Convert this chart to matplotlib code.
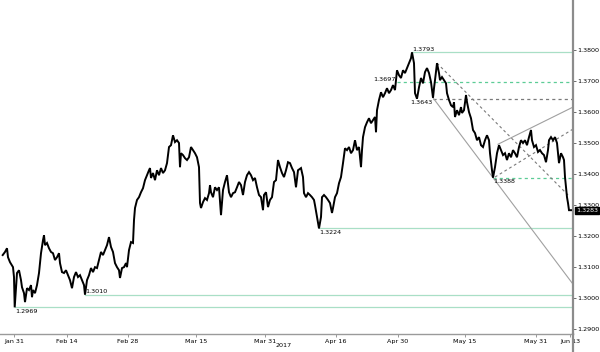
import matplotlib
matplotlib.use("Agg")
import matplotlib.pyplot as plt
import matplotlib.transforms as mtransforms
from matplotlib.lines import Line2D
import numpy as np

# ---- data (time in chart session units, USD/CAD close) ----
t_feb = [2.7,5,7,8,10,13,14,14.7,16,17,19,21,22,24,25,27,29,31,32,33,35,37,39,40,41,43,44,45,47,49,
         51,53,55,57,59,60,62,64,66,68,70,72,74,76,78,80,82,84,85,87,89,91,93,95,97,99,101,103,105,107,
         109,111,113,115,117,119,120,122,124,126,127,129,131,133,134,135,137,139,141,143,145,147,149]
v_feb = [1.3138,1.3148,1.3160,1.3131,1.3115,1.3099,1.3067,1.2969,1.3034,1.3080,
         1.3089,1.3057,1.3034,1.3015,1.2986,1.3031,1.3025,1.3041,1.3002,1.3025,
         1.3015,1.3041,1.3080,1.3112,1.3144,1.3186,1.3202,1.3170,1.3177,1.3160,
         1.3148,1.3144,1.3122,1.3131,1.3144,1.3112,1.3083,1.3080,1.3089,1.3073,
         1.3057,1.3031,1.3067,1.3083,1.3067,1.3073,1.3057,1.3041,1.3010,1.3057,
         1.3073,1.3096,1.3083,1.3099,1.3096,1.3122,1.3148,1.3138,1.3154,1.3170,
         1.3196,1.3164,1.3148,1.3112,1.3099,1.3089,1.3064,1.3096,1.3099,1.3112,
         1.3099,1.3154,1.3180,1.3177,1.3251,1.3290,1.3316,1.3325,1.3341,1.3354,
         1.3380,1.3396,1.3412]

t_mar = [150,151,153,155,157,159,161,163,165,167,169,171,173,175,177,179,180,181,183,185,
         187,189,191,193,195,197,199,200,201,203,205,207,209,210,211,213,215,217,219,221,
         223,225,227,229,231,233,235,237,239,241,243,245,247,249,251,253,255,257,259,261,
         263,264,266,268,270,272,274,276,278,280,282,284,286,288,290,292,294,296,298]
v_mar = [1.3419,1.3387,1.3403,1.3380,1.3412,1.3396,1.3419,1.3403,1.3412,1.3435,
         1.3487,1.3493,1.3525,1.3503,1.3509,1.3500,1.3422,1.3467,1.3461,1.3451,
         1.3445,1.3454,1.3487,1.3477,1.3467,1.3454,1.3422,1.3306,1.3290,1.3309,
         1.3322,1.3316,1.3338,1.3364,1.3341,1.3325,1.3357,1.3348,1.3357,1.3267,
         1.3348,1.3374,1.3396,1.3341,1.3325,1.3338,1.3341,1.3357,1.3374,1.3364,
         1.3332,1.3374,1.3396,1.3406,1.3396,1.3380,1.3387,1.3357,1.3332,1.3325,
         1.3283,1.3332,1.3341,1.3293,1.3316,1.3325,1.3374,1.3380,1.3445,1.3422,
         1.3403,1.3390,1.3412,1.3438,1.3435,1.3419,1.3406,1.3357,1.3412]

t_apr = [301,303,304,306,308,310,312,314,315,317,319,321,322,324,326,328,330,332,333,335,
         337,339,341,343,345,347,349,351,353,355,357,359,361,362,363,365,367,369,371,373,
         375,376,377,379,381,383,385,387,389,391,393,395,397,399,401,403,405,407,409,411,
         412,414,415,417,419,421,423,425,427,429,431,433,434,435,437,439,440,442,444,446,
         447,449,451,453,454,455,457,459,461,462,464,466,467,469,471,473,475,477,479,481,
         483,485,487,489,490,492,493,495,497,499,501,503,505,507,509,511,513,515,517,519,
         521,523,525,527,529,531,532,534,536,538,540,542,544,546,548,549,551,553,555,557,
         559,561,563,564,565,567,568,569,571]
v_apr = [1.3419,1.3390,1.3338,1.3325,1.3338,1.3332,1.3325,1.3316,1.3299,1.3261,
         1.3224,1.3261,1.3325,1.3332,1.3325,1.3316,1.3306,1.3274,1.3290,1.3325,
         1.3338,1.3370,1.3390,1.3435,1.3483,1.3477,1.3487,1.3467,1.3477,1.3509,
         1.3477,1.3487,1.3422,1.3477,1.3519,1.3551,1.3567,1.3580,1.3564,1.3574,
         1.3584,1.3535,1.3606,1.3639,1.3664,1.3648,1.3661,1.3677,1.3661,1.3671,
         1.3687,1.3671,1.3735,1.3719,1.3710,1.3735,1.3726,1.3742,1.3758,1.3774,
         1.3793,1.3758,1.3661,1.3643,1.3680,1.3710,1.3693,1.3729,1.3742,1.3726,
         1.3697,1.3646,1.3677,1.3703,1.3758,1.3726,1.3703,1.3713,1.3703,1.3693,
         1.3661,1.3639,1.3622,1.3616,1.3632,1.3584,1.3606,1.3590,1.3616,1.3597,
         1.3606,1.3655,1.3632,1.3600,1.3580,1.3542,1.3532,1.3509,1.3519,1.3493,
         1.3487,1.3509,1.3525,1.3509,1.3467,1.3412,1.3388,1.3422,1.3467,1.3493,
         1.3477,1.3461,1.3467,1.3445,1.3467,1.3454,1.3477,1.3467,1.3454,1.3487,
         1.3509,1.3500,1.3509,1.3493,1.3519,1.3542,1.3509,1.3487,1.3493,1.3471,
         1.3477,1.3467,1.3461,1.3438,1.3477,1.3509,1.3519,1.3509,1.3519,1.3500,
         1.3435,1.3467,1.3454,1.3445,1.3390,1.3325,1.3306,1.3283,1.3283]

assert len(t_feb) == len(v_feb), (len(t_feb), len(v_feb))
assert len(t_mar) == len(v_mar), (len(t_mar), len(v_mar))
assert len(t_apr) == len(v_apr), (len(t_apr), len(v_apr))

last_price = 1.3283

x_tick_pos = [14, 67, 128, 196, 265, 336, 398, 465, 536, 570]
x_tick_labels = ["Jan 31", "Feb 14", "Feb 28", "Mar 15", "Mar 31", "Apr 16",
                 "Apr 30", "May 15", "May 31", "Jun 13"]
year_label = "2017"
y_ticks = [1.29, 1.30, 1.31, 1.32, 1.33, 1.34, 1.35, 1.36, 1.37, 1.38]

# support / resistance levels: value, start time
level_values = [1.2969, 1.3010, 1.3224, 1.3793, 1.3697, 1.3643, 1.3388]
level_start = [14.7, 85, 319, 412, 397, 433, 493]
level_labels = ["1.2969", "1.3010", "1.3224", "1.3793", "1.3697", "1.3643", "1.3388"]

# trend lines: (t0, v0, t1, v1)
trend_down_solid = (433, 1.3646, 493, 1.3388)      # extended to the right edge
trend_down_dash = (437, 1.3758, 568, 1.3332)
channel_up_solid = (498, 1.3496, 573, 1.3616)
channel_up_dash = (495, 1.3390, 573, 1.3545)

# ---- figure ----
t = np.array(t_feb + t_mar + t_apr, dtype=float)
v = np.array(v_feb + v_mar + v_apr, dtype=float)

W, H = 600, 352
fig = plt.figure(figsize=(W / 100, H / 100), dpi=100)
ax = fig.add_axes([0, 18 / H, 573 / W, 334 / H])
ax.set_xlim(0, 573)
ax.set_ylim(1.2883, 1.3962)

green_solid = "#a9dfc6"
green_dash = "#5ccc96"
gray_dash = "#7a7a7a"
gray_line = "#a0a0a0"
fs = 4.6

# level lines
styles = [
    (green_solid, "-", "below"),
    (green_solid, "-", "above"),
    (green_solid, "-", "below"),
    (green_solid, "-", "above"),
    (green_dash, (0, (2.5, 2.5)), "left"),
    (gray_dash, (0, (2.5, 2.5)), "leftbelow"),
    (green_dash, (0, (2.5, 2.5)), "below"),
]
for val, t0, lab, (col, ls, pos) in zip(level_values, level_start, level_labels, styles):
    ax.plot([t0, 573], [val, val], color=col, lw=0.9, ls=ls, zorder=1)
    if pos == "below":
        ax.text(t0 + 0.5, val - 0.0004, lab, fontsize=fs, ha="left", va="top", zorder=5)
    elif pos == "above":
        ax.text(t0 + 0.5, val + 0.0002, lab, fontsize=fs, ha="left", va="bottom", zorder=5)
    elif pos == "left":
        ax.text(t0 - 1, val + 0.0009, lab, fontsize=fs, ha="right", va="center", zorder=5)
    else:
        ax.text(t0 - 1, val - 0.0004, lab, fontsize=fs, ha="right", va="top", zorder=5)

# trend lines
t0, v0, t1, v1 = trend_down_solid
slope = (v1 - v0) / (t1 - t0)
ax.plot([t0, 573], [v0, v0 + slope * (573 - t0)], color=gray_line, lw=0.8, zorder=2)
t0, v0, t1, v1 = trend_down_dash
ax.plot([t0, t1], [v0, v1], color=gray_dash, lw=0.8, ls=(0, (2.5, 2.5)), zorder=2)
t0, v0, t1, v1 = channel_up_solid
ax.plot([t0, t1], [v0, v1], color=gray_line, lw=0.8, zorder=2)
t0, v0, t1, v1 = channel_up_dash
ax.plot([t0, t1], [v0, v1], color=gray_dash, lw=0.8, ls=(0, (2.5, 2.5)), zorder=2)

# price series
ax.plot(t, v, color="black", lw=1.4, zorder=4, solid_joinstyle="miter")

# axes styling
for s in ["left", "top"]:
    ax.spines[s].set_visible(False)
ax.spines["right"].set_color("#8c8c8c")
ax.spines["right"].set_linewidth(1.6)
ax.spines["bottom"].set_color("#9a9a9a")
ax.spines["bottom"].set_linewidth(1.0)

ax.yaxis.tick_right()
ax.set_yticks(y_ticks)
ax.set_yticklabels([f"{y:.4f}" for y in y_ticks])
ax.tick_params(axis="y", direction="out", length=2, width=0.6, color="#555555",
               labelsize=fs, pad=1.2)
ax.set_xticks(x_tick_pos)
ax.set_xticklabels(x_tick_labels)
ax.tick_params(axis="x", direction="out", length=2, width=0.6, color="#888888",
               labelsize=fs, pad=1.5)

# year label under the axis
trans = mtransforms.blended_transform_factory(ax.transData, ax.transAxes)
ax.text(284, -0.033, year_label, transform=trans, fontsize=fs, ha="center", va="center")

# last price tag
trans_y = mtransforms.blended_transform_factory(ax.transAxes, ax.transData)
ax.text(1.006, last_price, f"{last_price:.4f}", transform=trans_y, fontsize=fs,
        color="white", ha="left", va="center", zorder=10,
        bbox=dict(boxstyle="square,pad=0.15", fc="black", ec="black"))

# right axis line continues below the date axis
fig.add_artist(Line2D([573 / W, 573 / W], [0, 18 / H], color="#8c8c8c", lw=1.6))

fig.savefig("out.png", dpi=100)
